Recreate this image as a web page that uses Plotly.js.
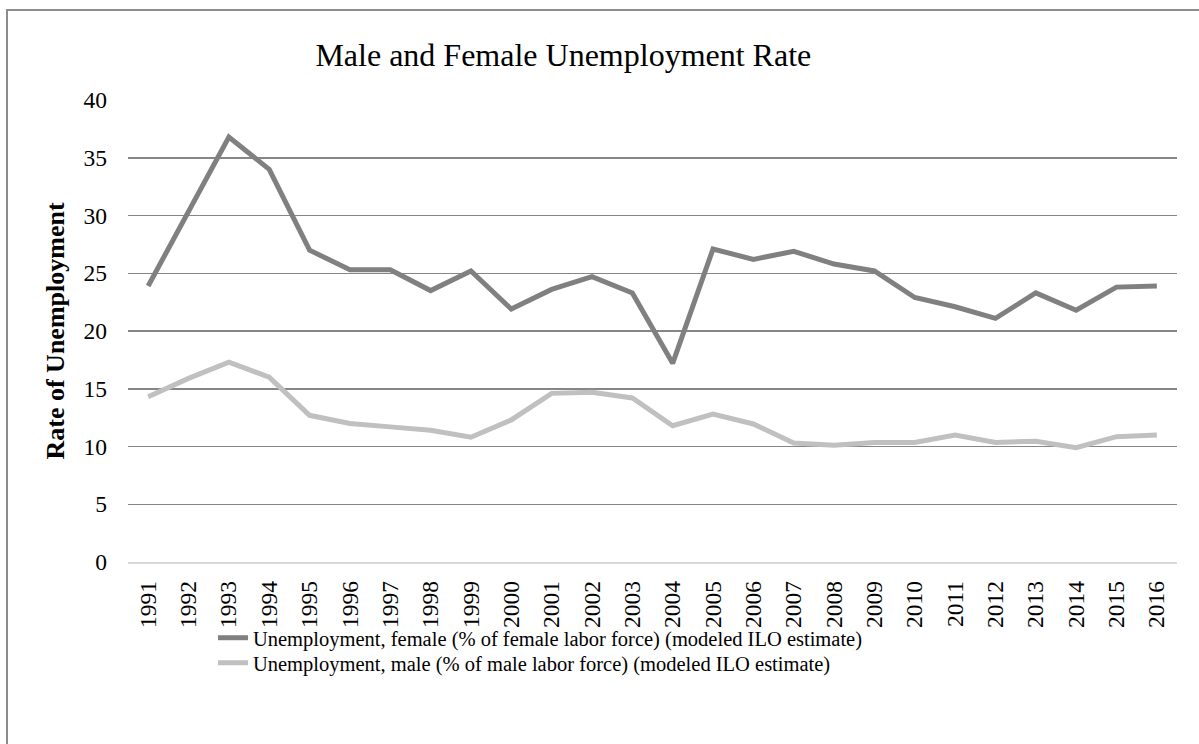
<!DOCTYPE html>
<html>
<head>
<meta charset="utf-8">
<script src="https://cdn.plot.ly/plotly-3.0.1.min.js"></script>
<style>
  html, body { margin: 0; padding: 0; overflow: hidden; background: #fff; }
  #chart { width: 1199px; height: 744px; }
  #frame { position: absolute; left: 6px; top: 9px; width: 1300px; height: 1000px;
           border: 2px solid #8c8c8c; pointer-events: none; box-sizing: border-box; }
</style>
</head>
<body>
<div id="chart"></div>
<div id="frame"></div>
<script>
const years = ['1991','1992','1993','1994','1995','1996','1997','1998','1999','2000',
               '2001','2002','2003','2004','2005','2006','2007','2008','2009','2010',
               '2011','2012','2013','2014','2015','2016'];
const female = [23.9, 30.3, 36.8, 34.0, 27.0, 25.3, 25.3, 23.5, 25.2, 21.9,
                23.6, 24.7, 23.3, 17.2, 27.1, 26.2, 26.9, 25.8, 25.2, 22.9,
                22.1, 21.1, 23.3, 21.8, 23.8, 23.9];
const male = [14.3, 15.9, 17.3, 16.0, 12.7, 12.0, 11.7, 11.4, 10.8, 12.3,
              14.6, 14.7, 14.2, 11.8, 12.8, 11.95, 10.3, 10.1, 10.35, 10.35,
              11.0, 10.35, 10.45, 9.9, 10.85, 11.0];
const femaleName = 'Unemployment, female (% of female labor force) (modeled ILO estimate)';
const maleName = 'Unemployment, male (% of male labor force) (modeled ILO estimate)';
const chartTitle = 'Male and Female Unemployment Rate';
const yTitle = 'Rate of Unemployment';

const font = 'Liberation Serif, Times New Roman, serif';

const traces = [
  { x: years, y: female, name: femaleName, type: 'scatter', mode: 'lines',
    line: { color: '#808080', width: 5 }, legend: 'legend' },
  { x: years, y: male, name: maleName, type: 'scatter', mode: 'lines',
    line: { color: '#c0c0c0', width: 5 }, legend: 'legend2' }
];

const legendFont = { family: font, size: 20.5, color: '#000' };

const layout = {
  width: 1199, height: 744,
  margin: { l: 128, r: 22, t: 100, b: 182 },
  paper_bgcolor: '#fff', plot_bgcolor: '#fff',
  font: { family: font, size: 20, color: '#000' },
  title: { text: chartTitle, font: { family: font, size: 32, color: '#000' },
           xref: 'paper', x: 0.415, xanchor: 'center',
           yref: 'container', y: 1 - 55/744, yanchor: 'middle' },
  xaxis: { type: 'category', range: [-0.5, 25.5], tickangle: -90, showgrid: false, zeroline: false,
           showline: true, linecolor: '#d9d9d9', linewidth: 1.5,
           ticks: '', ticklabelstandoff: 8,
           tickfont: { family: font, size: 23.5, color: '#000' } },
  yaxis: { range: [0, 40], dtick: 5, tick0: 0, showgrid: true, gridcolor: '#868686',
           gridwidth: 1.5, zeroline: false, showline: false, ticks: '',
           ticklabelstandoff: 20,
           tickfont: { family: font, size: 23.5, color: '#000' },
           title: { text: '<b>' + yTitle + '</b>', standoff: 11,
                    font: { family: font, size: 26, color: '#000' } } },
  showlegend: true,
  legend: { orientation: 'v', x: 0.081, xanchor: 'left', y: -0.121, yanchor: 'top',
            font: legendFont, bgcolor: 'rgba(0,0,0,0)', itemwidth: 30 },
  legend2: { orientation: 'v', x: 0.081, xanchor: 'left', y: -0.175, yanchor: 'top',
            font: legendFont, bgcolor: 'rgba(0,0,0,0)', itemwidth: 30 }
};

Plotly.newPlot('chart', traces, layout, { displayModeBar: false, staticPlot: true });
</script>
</body>
</html>
